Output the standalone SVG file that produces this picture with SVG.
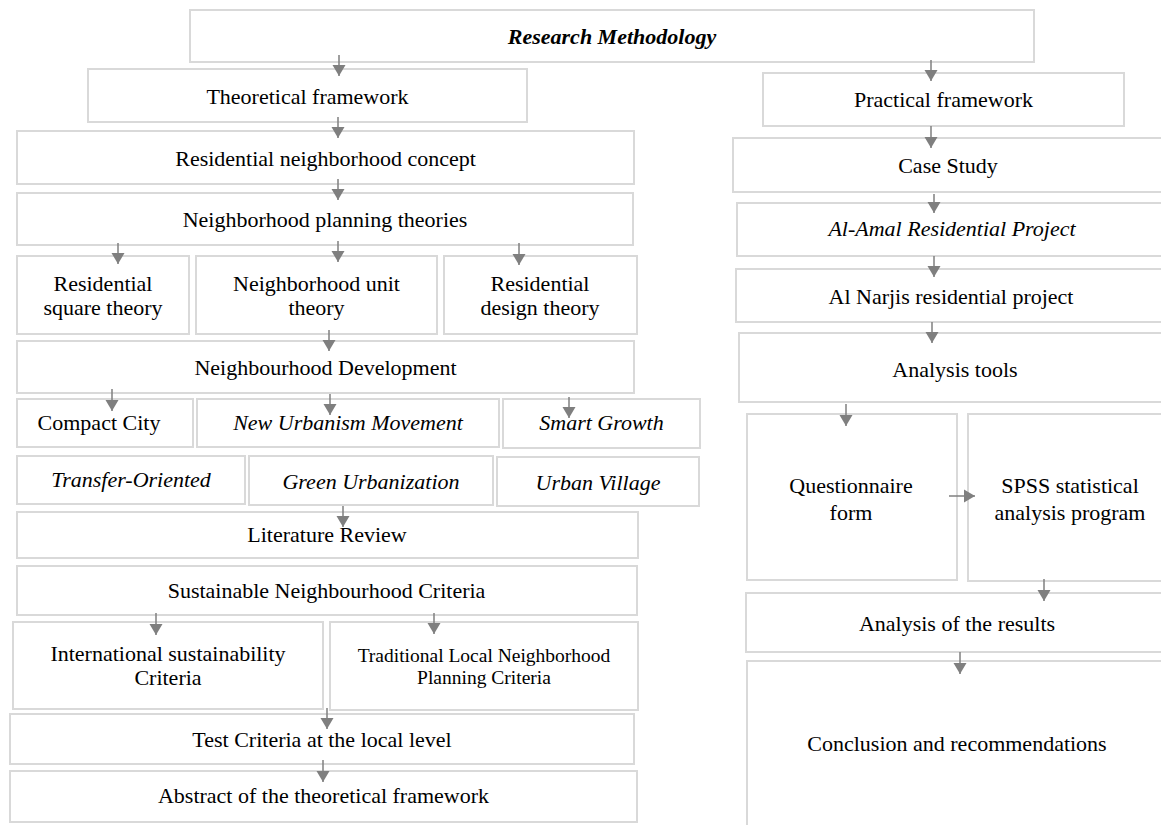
<svg xmlns="http://www.w3.org/2000/svg" width="1161" height="825" viewBox="0 0 1161 825">
<defs>
<style>
.b{fill:#ffffff;stroke:#d9d9d9;stroke-width:2}
.t{font-family:"Liberation Serif","Times New Roman",serif;font-size:22px;fill:#000;text-anchor:middle}
.i{font-style:italic}
.bi{font-style:italic;font-weight:bold}
.s{font-size:19.5px}
.c{stroke:#7f7f7f;stroke-width:1.5;fill:none;marker-end:url(#ah)}
</style>
<marker id="ah" markerUnits="userSpaceOnUse" markerWidth="12" markerHeight="14" refX="11" refY="6.5" orient="auto" viewBox="0 0 12 13">
<path d="M0,0 L11,6.5 L0,13 z" fill="#7f7f7f"/>
</marker>
</defs>
<rect width="1161" height="825" fill="#ffffff"/>

<g id="n-research"><rect class="b" x="190" y="10" width="844" height="52"/><text class="t bi" x="612" y="44">Research Methodology</text></g>
<g id="n-theoretical"><rect class="b" x="88" y="69" width="439" height="53"/><text class="t" x="307.5" y="104">Theoretical framework</text></g>
<g id="n-concept"><rect class="b" x="17" y="131" width="617" height="53"/><text class="t" x="325.5" y="166">Residential neighborhood concept</text></g>
<g id="n-theories"><rect class="b" x="17" y="193" width="616" height="52"/><text class="t" x="325" y="227">Neighborhood planning theories</text></g>
<g id="n-square"><rect class="b" x="17" y="256" width="172" height="78"/><text class="t" x="103" y="291">Residential</text><text class="t" x="103" y="315">square theory</text></g>
<g id="n-unit"><rect class="b" x="196" y="256" width="241" height="78"/><text class="t" x="316.5" y="291">Neighborhood unit</text><text class="t" x="316.5" y="315">theory</text></g>
<g id="n-design"><rect class="b" x="444" y="256" width="193" height="78"/><text class="t" x="540" y="291">Residential</text><text class="t" x="540" y="315">design theory</text></g>
<g id="n-development"><rect class="b" x="17" y="341" width="617" height="52"/><text class="t" x="325.5" y="375">Neighbourhood Development</text></g>
<g id="n-compact"><rect class="b" x="17" y="399" width="176" height="48"/><text class="t" x="99" y="430">Compact City</text></g>
<g id="n-newurbanism"><rect class="b" x="197" y="399" width="302" height="48"/><text class="t i" x="348" y="430">New Urbanism Movement</text></g>
<g id="n-smart"><rect class="b" x="503" y="399" width="197" height="49"/><text class="t i" x="601.5" y="430">Smart Growth</text></g>
<g id="n-transfer"><rect class="b" x="17" y="456" width="228" height="48"/><text class="t i" x="131" y="487">Transfer-Oriented</text></g>
<g id="n-green"><rect class="b" x="249" y="456" width="244" height="49"/><text class="t i" x="371" y="489">Green Urbanization</text></g>
<g id="n-village"><rect class="b" x="497" y="457" width="202" height="49"/><text class="t i" x="598" y="490">Urban Village</text></g>
<g id="n-literature"><rect class="b" x="17" y="512" width="621" height="46"/><text class="t" x="327" y="542">Literature Review</text></g>
<g id="n-sustainable"><rect class="b" x="17" y="566" width="620" height="49"/><text class="t" x="326.5" y="598">Sustainable Neighbourhood Criteria</text></g>
<g id="n-international"><rect class="b" x="13" y="622" width="310" height="87"/><text class="t" x="168" y="661">International sustainability</text><text class="t" x="168" y="685">Criteria</text></g>
<g id="n-traditional"><rect class="b" x="330" y="622" width="308" height="88"/><text class="t s" x="484" y="662">Traditional Local Neighborhood</text><text class="t s" x="484" y="684">Planning Criteria</text></g>
<g id="n-test"><rect class="b" x="10" y="714" width="624" height="50"/><text class="t" x="322" y="747">Test Criteria at the local level</text></g>
<g id="n-abstract"><rect class="b" x="10" y="771" width="627" height="51"/><text class="t" x="323.5" y="803">Abstract of the theoretical framework</text></g>

<g id="n-practical"><rect class="b" x="763" y="73" width="361" height="53"/><text class="t" x="943.5" y="107">Practical framework</text></g>
<g id="n-case"><rect class="b" x="733" y="138" width="437" height="54"/><text class="t" x="948" y="173">Case Study</text></g>
<g id="n-amal"><rect class="b" x="737" y="203" width="433" height="53"/><text class="t i" x="952" y="236">Al-Amal Residential Project</text></g>
<g id="n-narjis"><rect class="b" x="736" y="269" width="434" height="53"/><text class="t" x="951" y="304">Al Narjis residential project</text></g>
<g id="n-tools"><rect class="b" x="739" y="333" width="431" height="69"/><text class="t" x="955" y="377">Analysis tools</text></g>
<g id="n-questionnaire"><rect class="b" x="747" y="414" width="210" height="166"/><text class="t" x="851" y="493">Questionnaire</text><text class="t" x="851" y="520">form</text></g>
<g id="n-spss"><rect class="b" x="968" y="414" width="202" height="167"/><text class="t" x="1070" y="493">SPSS statistical</text><text class="t" x="1070" y="520">analysis program</text></g>
<g id="n-results"><rect class="b" x="746" y="593" width="424" height="59"/><text class="t" x="957" y="631">Analysis of the results</text></g>
<g id="n-conclusion"><rect class="b" x="747" y="661" width="423" height="180"/><text class="t" x="957" y="751">Conclusion and recommendations</text></g>

<g id="connectors">
<line class="c" x1="339" y1="55" x2="339" y2="76"/>
<line class="c" x1="931" y1="60" x2="931" y2="81"/>
<line class="c" x1="338" y1="117" x2="338" y2="138"/>
<line class="c" x1="338" y1="179" x2="338" y2="200"/>
<line class="c" x1="118" y1="243" x2="118" y2="264"/>
<line class="c" x1="338" y1="241" x2="338" y2="262"/>
<line class="c" x1="519" y1="243" x2="519" y2="265"/>
<line class="c" x1="329" y1="330" x2="329" y2="351"/>
<line class="c" x1="112" y1="389" x2="112" y2="411"/>
<line class="c" x1="330" y1="394" x2="330" y2="415"/>
<line class="c" x1="569" y1="397" x2="569" y2="418"/>
<line class="c" x1="343" y1="506" x2="343" y2="527"/>
<line class="c" x1="156" y1="613" x2="156" y2="635"/>
<line class="c" x1="434" y1="613" x2="434" y2="634"/>
<line class="c" x1="327" y1="708" x2="327" y2="729"/>
<line class="c" x1="323" y1="760" x2="323" y2="782"/>
<line class="c" x1="931" y1="126" x2="931" y2="148"/>
<line class="c" x1="934" y1="194" x2="934" y2="213"/>
<line class="c" x1="934" y1="256" x2="934" y2="277"/>
<line class="c" x1="932" y1="322" x2="932" y2="343"/>
<line class="c" x1="846" y1="404" x2="846" y2="426"/>
<line class="c" x1="949" y1="496" x2="975" y2="496"/>
<line class="c" x1="1044" y1="579" x2="1044" y2="601"/>
<line class="c" x1="960" y1="652" x2="960" y2="674"/>
</g>
</svg>
